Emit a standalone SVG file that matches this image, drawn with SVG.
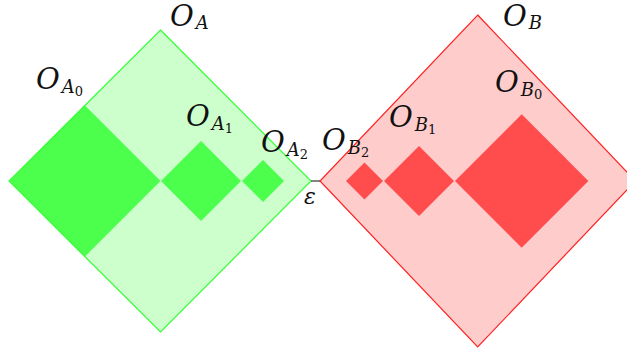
<svg xmlns="http://www.w3.org/2000/svg" width="627" height="351" viewBox="0 0 627 351">
<style>
.lg{fill:#ccffcc}
.dg{fill:#4dff4d}
.gs{fill:none;stroke:#33ff33;stroke-width:1.2}
.lr{fill:#ffcccc}
.dr{fill:#ff4d4d}
.rs{fill:none;stroke:#ff2020;stroke-width:1.2}
text{font-family:'DejaVu Serif','Liberation Serif',serif;font-style:italic;fill:#111;font-size:29px}
.s{font-size:18px}
.ss{font-size:13px;font-style:normal}
</style>
<g id="nodeA">
<polygon class="lg" points="160.5,30 311,181 160.5,332 9,181"/>
<polygon class="dg" points="85,105.5 160.5,181 85,256.5 9.5,181"/>
<polygon class="dg" points="201,141 241,181 201,221 161,181"/>
<polygon class="dg" points="263,160 284,181 263,202 242,181"/>
<polygon class="gs" points="160.5,30 311,181 160.5,332 9,181"/>
</g>
<g id="nodeB">
<polygon class="lr" points="477.7,15 635.4,181 477.7,347 320,181"/>
<polygon class="dr" points="521.7,114.3 588.4,181 521.7,247.7 455,181"/>
<polygon class="dr" points="419,146 454,181 419,216 384,181"/>
<polygon class="dr" points="364.5,162.5 383,181 364.5,199.5 346,181"/>
<polygon class="rs" points="477.7,15 635.4,181 477.7,347 320,181"/>
</g>
<g id="connectors">
<line x1="311" y1="181" x2="320" y2="181" stroke="#444" stroke-width="1.3"/>
</g>
<g id="labels">
<text x="304" y="204" style="font-size:22px">ε</text>
<text x="170" y="26">O<tspan class="s" dx="2" dy="3">A</tspan></text>
<text x="36" y="89">O<tspan class="s" dx="2" dy="4">A</tspan><tspan class="ss" dy="3">0</tspan></text>
<text x="186" y="126">O<tspan class="s" dx="2" dy="4">A</tspan><tspan class="ss" dy="3">1</tspan></text>
<text x="261" y="152">O<tspan class="s" dx="2" dy="4">A</tspan><tspan class="ss" dy="3">2</tspan></text>
<text x="322" y="150">O<tspan class="s" dx="2" dy="4">B</tspan><tspan class="ss" dy="3">2</tspan></text>
<text x="389" y="127">O<tspan class="s" dx="2" dy="4">B</tspan><tspan class="ss" dy="3">1</tspan></text>
<text x="495" y="92">O<tspan class="s" dx="2" dy="4">B</tspan><tspan class="ss" dy="3">0</tspan></text>
<text x="503" y="26">O<tspan class="s" dx="2" dy="3">B</tspan></text>
</g>
</svg>
